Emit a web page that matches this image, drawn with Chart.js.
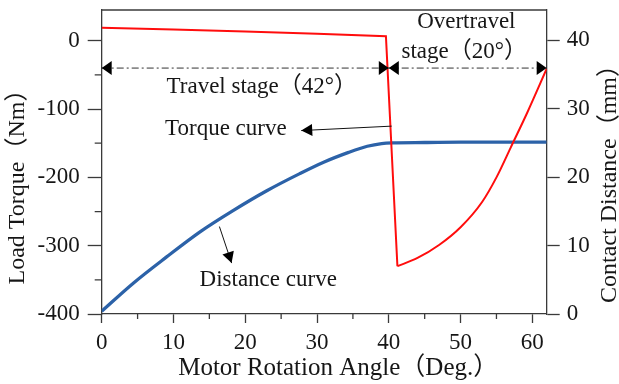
<!DOCTYPE html>
<html><head><meta charset="utf-8">
<script src="https://cdn.jsdelivr.net/npm/chart.js@4.4.1/dist/chart.umd.min.js"></script>
<style>html,body{margin:0;padding:0;background:#fff;}#wrap{width:619px;height:384px;}</style>
</head><body><div id="wrap"><canvas id="c" width="619" height="384"></canvas></div>
<script>
// ---- data ----
const travelAngles = [0, 10, 20, 30, 39.6, 41.2];
const travelTorque = [19, 16.5, 13.6, 10.3, 6.5, -330];
const overtravelAngles = [41.2, 44, 47, 50, 53, 55, 57, 59.3, 62];
const overtravelTorque = [-330, -318, -299, -273, -236, -200, -156, -105, -41];
const distanceAngles = [0, 4.4, 9, 13.7, 18.3, 23, 27.6, 31, 34.4, 37, 39, 40.5, 45, 50, 55, 62];
const distanceValues = [0.4, 4.5, 8.3, 12.0, 15.1, 18.0, 20.5, 22.2, 23.6, 24.5, 24.9, 25.0, 25.05, 25.1, 25.1, 25.1];
const xTicks = [0, 10, 20, 30, 40, 50, 60];
const xMinorTicks = [5, 15, 25, 35, 45, 55];
const torqueTicks = [0, -100, -200, -300, -400];
const torqueMinorTicks = [-50, -150, -250, -350];
const distanceTicks = [0, 10, 20, 30, 40];
const stageLevel = -40;          // torque-axis value of the stage line
const travelStage = [0, 40];
const overtravelStage = [40, 62];
const textNotes = [
  {text: 'Travel stage（42°）', x: 22.3, y: -68},
  {text: 'Overtravel', x: 50.8, y: 28},
  {text: 'stage（20°）', x: 50.5, y: -16},
  {text: 'Torque curve', x: 17.3, y: -129},
  {text: 'Distance curve', x: 23.2, y: -350.5}
];
const arrowNotes = [
  {from: [40.4, -125], to: [27.8, -131.5]},
  {from: [16.4, -272], to: [18.1, -325.5]}
];
const xTitle = 'Motor Rotation Angle（Deg.）';
const leftTitle = 'Load Torque（Nm）';
const rightTitle = 'Contact Distance（mm）';

// ---- style ----
const FONT = "'Liberation Serif', 'Times New Roman', 'Noto Sans CJK SC', serif";
const FS = 23;
const TFS = 24;
const TXT = '#161616';
const AX = '#3a3a3a';
const RED = '#ff0d0d';

function arrowHead(ctx, tx, ty, fx, fy, len, hw) {
  const dx = tx - fx, dy = ty - fy, d = Math.hypot(dx, dy);
  const ux = dx / d, uy = dy / d;
  const bx = tx - ux * len, by = ty - uy * len;
  ctx.beginPath();
  ctx.moveTo(tx, ty);
  ctx.lineTo(bx - uy * hw, by + ux * hw);
  ctx.lineTo(bx + uy * hw, by - ux * hw);
  ctx.closePath();
  ctx.fill();
}

const annot = {
  id: 'annot',
  afterDraw(chart) {
    const {ctx, chartArea: ca, scales: {x, y}} = chart;
    const px = v => x.getPixelForValue(v), py = v => y.getPixelForValue(v);
    ctx.save();
    // top frame
    ctx.strokeStyle = AX; ctx.lineWidth = 1.3;
    ctx.beginPath(); ctx.moveTo(ca.left, ca.top); ctx.lineTo(ca.right, ca.top); ctx.stroke();
    // minor ticks
    ctx.beginPath();
    xMinorTicks.forEach(v => { const p = px(v); ctx.moveTo(p, ca.bottom); ctx.lineTo(p, ca.bottom + 5); });
    torqueMinorTicks.forEach(v => { const p = py(v); ctx.moveTo(ca.left, p); ctx.lineTo(ca.left - 7, p); });
    ctx.stroke();
    // stage line
    const sy = py(stageLevel);
    ctx.strokeStyle = '#333'; ctx.lineWidth = 1;
    ctx.setLineDash([7, 3, 2, 3]);
    ctx.beginPath(); ctx.moveTo(px(travelStage[0]), sy); ctx.lineTo(px(overtravelStage[1]), sy); ctx.stroke();
    ctx.setLineDash([]);
    ctx.fillStyle = '#000';
    [travelStage, overtravelStage].forEach(([a, b]) => {
      arrowHead(ctx, px(a), sy, px(b), sy, 10, 7);
      arrowHead(ctx, px(b), sy, px(a), sy, 10, 7);
    });
    // pointer arrows
    ctx.strokeStyle = '#111'; ctx.lineWidth = 1;
    arrowNotes.forEach(a => {
      const fx = px(a.from[0]), fy = py(a.from[1]), tx = px(a.to[0]), ty = py(a.to[1]);
      ctx.beginPath(); ctx.moveTo(fx, fy); ctx.lineTo(tx, ty); ctx.stroke();
      arrowHead(ctx, tx, ty, fx, fy, 11, 6);
    });
    // notes
    ctx.fillStyle = TXT;
    ctx.font = FS + 'px ' + FONT;
    ctx.textAlign = 'center'; ctx.textBaseline = 'middle';
    textNotes.forEach(t => ctx.fillText(t.text, px(t.x), py(t.y)));
    // axis titles
    ctx.font = '25px ' + FONT;
    ctx.fillText(xTitle, (ca.left + ca.right) / 2 + 14, 368);
    ctx.font = TFS + 'px ' + FONT;
    ctx.save(); ctx.translate(18, (ca.top + ca.bottom) / 2 + 19); ctx.rotate(-Math.PI / 2);
    ctx.fillText(leftTitle, 0, 0); ctx.restore();
    ctx.save(); ctx.translate(610, (ca.top + ca.bottom) / 2 + 16); ctx.rotate(-Math.PI / 2);
    ctx.fillText(rightTitle, 0, 0); ctx.restore();
    ctx.restore();
  }
};

const tickFont = {family: FONT, size: FS};
const noPad = s => { s.paddingTop = 0; s.paddingBottom = 0; };
const toPts = (xs, ys) => xs.map((a, i) => ({x: a, y: ys[i]}));
new Chart(document.getElementById('c'), {
  type: 'line',
  data: {
    datasets: [
      {label: 'Torque (travel)', data: toPts(travelAngles, travelTorque),
       borderColor: RED, borderWidth: 2, pointRadius: 0, tension: 0, yAxisID: 'y'},
      {label: 'Torque (overtravel)', data: toPts(overtravelAngles, overtravelTorque),
       borderColor: RED, borderWidth: 2, pointRadius: 0, cubicInterpolationMode: 'monotone', yAxisID: 'y'},
      {label: 'Distance', data: toPts(distanceAngles, distanceValues),
       borderColor: '#2c62a8', borderWidth: 3.3, pointRadius: 0, cubicInterpolationMode: 'monotone', yAxisID: 'y2'}
    ]
  },
  options: {
    responsive: false, animation: false, devicePixelRatio: 1,
    layout: {padding: {top: 10, left: 0, right: 0, bottom: 0}},
    plugins: {legend: {display: false}, tooltip: {enabled: false}},
    scales: {
      x: {type: 'linear', position: 'bottom', min: 0, max: 62,
        afterBuildTicks: s => { s.ticks = xTicks.map(v => ({value: v})); },
        ticks: {font: tickFont, color: TXT, padding: 6, maxRotation: 0, autoSkip: false},
        grid: {drawOnChartArea: false, tickLength: 9, tickColor: AX, tickWidth: 1.3},
        border: {display: true, color: AX, width: 1.3},
        afterFit: s => { s.height = 70; s.paddingLeft = 0; s.paddingRight = 0; }},
      y: {type: 'linear', position: 'left', min: -400, max: 45,
        afterBuildTicks: s => { s.ticks = torqueTicks.map(v => ({value: v})); },
        ticks: {font: tickFont, color: TXT, padding: 8, autoSkip: false},
        grid: {drawOnChartArea: false, tickLength: 14, tickColor: AX, tickWidth: 1.3},
        border: {display: true, color: AX, width: 1.3},
        afterFit: s => { s.width = 101.7; noPad(s); }},
      y2: {type: 'linear', position: 'right', min: 0, max: 44.4,
        afterBuildTicks: s => { s.ticks = distanceTicks.map(v => ({value: v})); },
        ticks: {font: tickFont, color: TXT, padding: 7, autoSkip: false},
        grid: {drawOnChartArea: false, tickLength: 13, tickColor: AX, tickWidth: 1.3},
        border: {display: true, color: AX, width: 1.3},
        afterFit: s => { s.width = 72.3; noPad(s); }}
    }
  },
  plugins: [annot]
});
</script></body></html>
